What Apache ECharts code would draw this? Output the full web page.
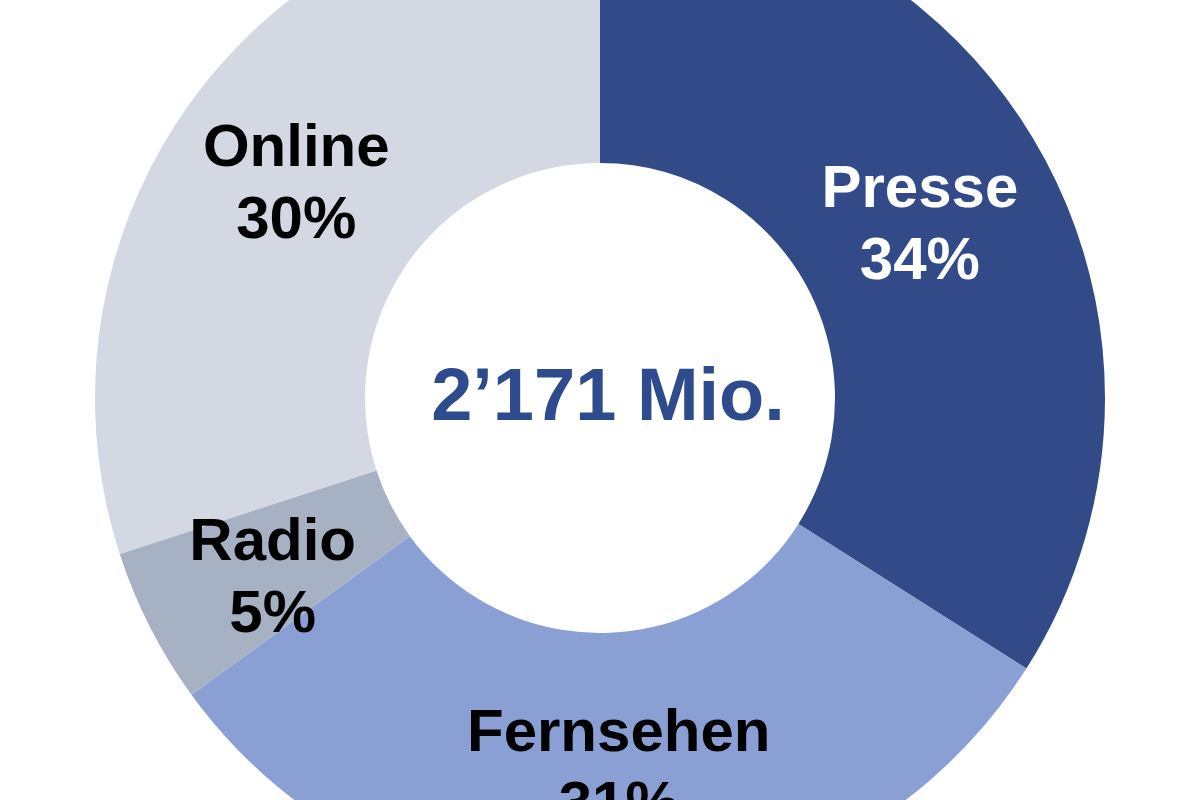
<!DOCTYPE html>
<html>
<head>
<meta charset="utf-8">
<script src="https://cdn.jsdelivr.net/npm/echarts@6/dist/echarts.min.js"></script>
<style>
  html, body { margin: 0; padding: 0; background: #fff; }
  #chart { width: 1200px; height: 800px; }
</style>
</head>
<body>
<div id="chart"></div>
<script>
const categories = ['Presse', 'Fernsehen', 'Radio', 'Online'];
const shares = [34, 31, 5, 30];
const colors = ['#324a88', '#8a9fd4', '#a7b1c4', '#d3d8e3'];
const labelColors = ['#ffffff', '#000000', '#000000', '#000000'];
const totalText = '2\u2019171 Mio.';

// small nudges so the labels sit where they do in the original
const labelDx = [-7, 7, 5, -2];
const labelDy = [8, 0, 12, 7];

const chart = echarts.init(document.getElementById('chart'));

const data = categories.map((name, i) => {
  const dx = labelDx[i];
  const dy = labelDy[i];
  return {
    name: name,
    value: shares[i],
    itemStyle: { color: colors[i] },
    label: {
      color: labelColors[i],
      padding: [0, dx < 0 ? -2 * dx : 0, 0, dx > 0 ? 2 * dx : 0],
      // an invisible first line pushes the text down by dy
      formatter: (dy > 0 ? '{s| }\n' : '') + '{b}\n{c}%',
      rich: { s: { fontSize: 1, lineHeight: 2 * dy } }
    }
  };
});

chart.setOption({
  animation: false,
  graphic: [{
    type: 'text',
    x: 608,
    y: 400,
    style: {
      text: totalText,
      fill: '#2e4b8e',
      font: 'bold 74px "Liberation Sans", Arial, sans-serif',
      align: 'center',
      verticalAlign: 'middle'
    }
  }],
  series: [{
    type: 'pie',
    center: [600, 398],
    radius: [235, 505],
    startAngle: 90,
    clockwise: true,
    silent: true,
    label: {
      position: 'inside',
      fontFamily: '"Liberation Sans", Arial, sans-serif',
      fontWeight: 'bold',
      fontSize: 60,
      lineHeight: 72
    },
    labelLine: { show: false },
    data: data
  }]
});
</script>
</body>
</html>
